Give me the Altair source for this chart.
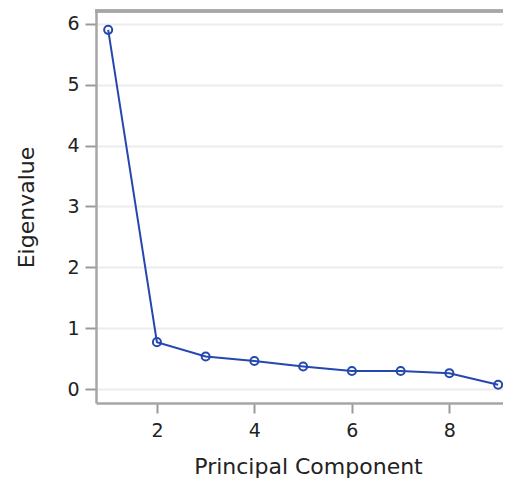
import altair as alt
import pandas as pd

components = [1, 2, 3, 4, 5, 6, 7, 8, 9]
eigenvalues = [5.90, 0.77, 0.535, 0.46, 0.37, 0.295, 0.295, 0.26, 0.07]

df = pd.DataFrame({"Principal Component": components, "Eigenvalue": eigenvalues})

FONT = "DejaVu Sans"
BLUE = "#2548b0"
FRAME = "#a6a6a6"
W, H = 407, 392

x = alt.X("Principal Component:Q",
          scale=alt.Scale(domain=[0.75, 9.1], nice=False, zero=False),
          axis=alt.Axis(values=[2, 4, 6, 8], grid=False, tickSize=10, tickColor="#9a9a9a",
                        tickWidth=2, labelFontSize=19, labelPadding=8, titleFontSize=22,
                        titlePadding=16, titleX=212, domain=True, domainColor=FRAME, domainWidth=2.5,
                        labelColor="#222", titleColor="#222",
                        titleFontWeight="normal", labelFont=FONT, titleFont=FONT))
y = alt.Y("Eigenvalue:Q",
          scale=alt.Scale(domain=[-0.23, 6.21], nice=False, zero=False),
          axis=alt.Axis(values=[0, 1, 2, 3, 4, 5, 6], grid=True, gridColor="#ececec", gridWidth=2,
                        tickSize=11, tickColor="#9a9a9a", tickWidth=2, labelFontSize=19,
                        labelPadding=6, titleFontSize=22, titlePadding=28, domain=True,
                        domainColor=FRAME, domainWidth=2.5,
                        labelColor="#222", titleColor="#222", titleFontWeight="normal",
                        labelFont=FONT, titleFont=FONT))

line = alt.Chart(df).mark_line(color=BLUE, strokeWidth=2).encode(x=x, y=y)
pts = alt.Chart(df).mark_point(color=BLUE, filled=False, size=65, strokeWidth=2, opacity=1).encode(x=x, y=y)
top = alt.Chart(df).mark_rule(color=FRAME, strokeWidth=2.5).encode(
    x=alt.value(-1), x2=alt.value(W), y=alt.value(0))

chart = (top + line + pts).properties(
    width=W, height=H,
    autosize=alt.AutoSizeParams(type="none"),
    padding={"left": 88, "top": 3, "right": 0, "bottom": 81},
).configure_view(stroke=None)

chart.save("out.html", embed_options={"renderer": "svg", "actions": False})
